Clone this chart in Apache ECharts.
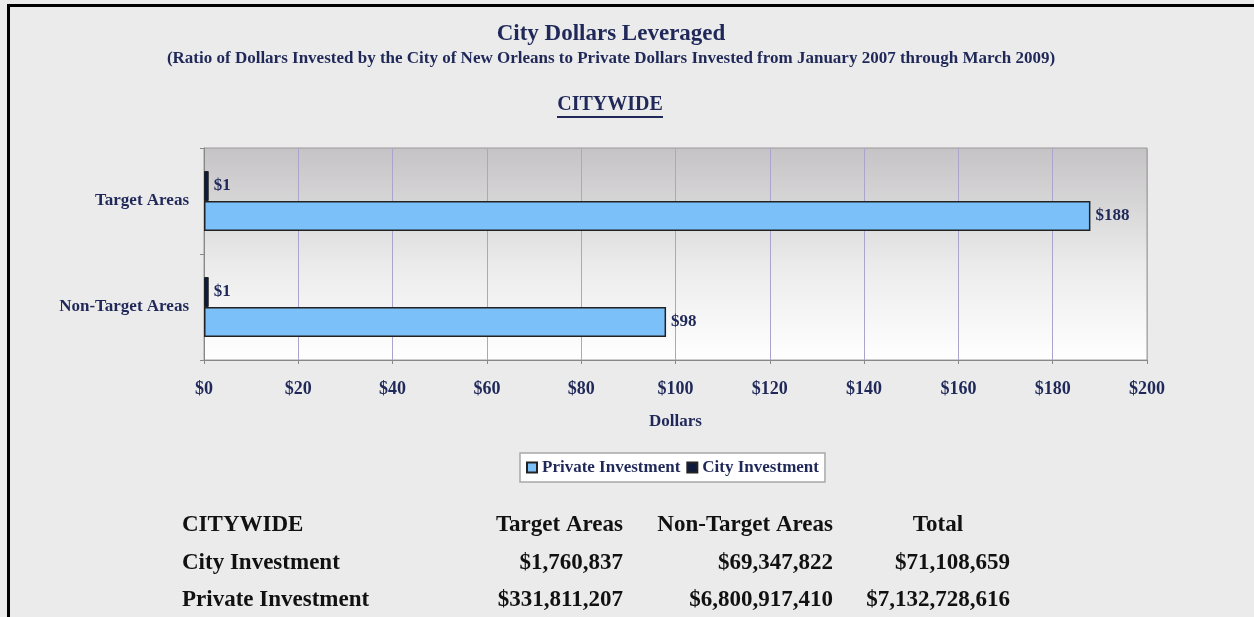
<!DOCTYPE html>
<html>
<head>
<meta charset="utf-8">
<script src="https://cdn.jsdelivr.net/npm/echarts@6/dist/echarts.min.js"></script>
<style>
  html, body { margin: 0; padding: 0; background: #ebebeb; }
  #main { width: 1254px; height: 617px; }
</style>
</head>
<body>
<div id="main"></div>
<script>
// chart data
var categories = ['Target Areas', 'Non-Target Areas'];
var privateRatio = [188, 98];
var cityRatio = [1, 1];

// table under the chart
var tableHeader = ['CITYWIDE', 'Target Areas', 'Non-Target Areas', 'Total'];
var cityInvestment = ['City Investment', '$1,760,837', '$69,347,822', '$71,108,659'];
var privateInvestment = ['Private Investment', '$331,811,207', '$6,800,917,410', '$7,132,728,616'];

var navy = '#1f2858';
var font = '"Liberation Serif", "Times New Roman", serif';

var chart = echarts.init(document.getElementById('main'));

function tableText(row, y, header) {
  var out = [];
  var xs = [182, 623, 833, 1010];
  for (var i = 0; i < row.length; i++) {
    var align = i == 0 ? 'left' : 'right';
    var x = xs[i];
    if (header && i == 3) { align = 'center'; x = 938; }
    out.push({
      type: 'text',
      x: x, y: y,
      style: {
        text: row[i], fill: '#111', font: 'bold 23px ' + font,
        textAlign: align, textVerticalAlign: 'middle'
      }
    });
  }
  return out;
}

var graphics = [
  { type: 'line', shape: { x1: 8.5, y1: 5, x2: 8.5, y2: 617 }, style: { stroke: '#000', lineWidth: 3 } },
  { type: 'line', shape: { x1: 7, y1: 5.5, x2: 1254, y2: 5.5 }, style: { stroke: '#000', lineWidth: 3 } },
  { type: 'text', x: 611, y: 34, style: { text: 'City Dollars Leveraged', fill: navy, font: 'bold 23px ' + font, textAlign: 'center', textVerticalAlign: 'middle' } },
  { type: 'text', x: 611, y: 59, style: { text: '(Ratio of Dollars Invested by the City of New Orleans to Private Dollars Invested from January 2007 through March 2009)', fill: navy, font: 'bold 17px ' + font, textAlign: 'center', textVerticalAlign: 'middle' } },
  { type: 'text', x: 610, y: 105, style: { text: 'CITYWIDE', fill: navy, font: 'bold 20px ' + font, textAlign: 'center', textVerticalAlign: 'middle' } },
  { type: 'line', shape: { x1: 557, y1: 117, x2: 663, y2: 117 }, style: { stroke: navy, lineWidth: 2 } }
];
graphics = graphics.concat(tableText(tableHeader, 525, true));
graphics = graphics.concat(tableText(cityInvestment, 563, false));
graphics = graphics.concat(tableText(privateInvestment, 600, false));

var labelStyle = {
  show: true,
  position: 'right',
  distance: 5,
  color: navy,
  fontFamily: font,
  fontWeight: 'bold',
  fontSize: 17,
  formatter: function (p) { return '$' + p.value; }
};

var option = {
  backgroundColor: '#ebebeb',
  animation: false,
  textStyle: { fontFamily: font },
  grid: {
    left: 204, right: 107, top: 148, bottom: 257,
    show: true,
    borderColor: '#9a9a9a',
    borderWidth: 1,
    backgroundColor: new echarts.graphic.LinearGradient(0, 0, 0, 1, [
      { offset: 0, color: '#c5c3c5' },
      { offset: 0.55, color: '#ebebeb' },
      { offset: 1, color: '#ffffff' }
    ])
  },
  legend: {
    top: 453,
    left: 520,
    backgroundColor: '#ffffff',
    borderColor: '#a8a8a8',
    borderWidth: 1.5,
    padding: [6, 6],
    itemGap: 6,
    itemWidth: 10,
    itemHeight: 10,
    icon: 'rect',
    textStyle: { color: navy, fontFamily: font, fontWeight: 'bold', fontSize: 17 },
    data: ['Private Investment', 'City Investment']
  },
  xAxis: {
    type: 'value',
    min: 0, max: 200, interval: 20,
    name: 'Dollars',
    nameLocation: 'middle',
    nameGap: 53,
    nameTextStyle: { color: navy, fontFamily: font, fontWeight: 'bold', fontSize: 17 },
    axisLine: { show: true, lineStyle: { color: '#888' } },
    axisTick: { show: true, length: 4, lineStyle: { color: '#888' } },
    axisLabel: {
      color: navy, fontFamily: font, fontWeight: 'bold', fontSize: 18, margin: 20,
      formatter: function (v) { return '$' + v; }
    },
    splitLine: { show: true, lineStyle: { color: '#aca4cc', width: 1 } }
  },
  yAxis: {
    type: 'category',
    inverse: true,
    data: categories,
    axisLine: { show: true, lineStyle: { color: '#888' } },
    axisTick: { show: true, length: 4, lineStyle: { color: '#888' } },
    axisLabel: { color: navy, fontFamily: font, fontWeight: 'bold', fontSize: 17, margin: 15, padding: [4, 0, 0, 0] },
    splitLine: { show: false }
  },
  series: [
    {
      name: 'City Investment',
      type: 'bar',
      data: cityRatio,
      barWidth: 30,
      barGap: '0%',
      itemStyle: { color: '#0c1a3d', borderColor: '#222', borderWidth: 1 },
      label: labelStyle
    },
    {
      name: 'Private Investment',
      type: 'bar',
      data: privateRatio,
      barWidth: 30,
      barGap: '0%',
      itemStyle: { color: '#7cc0fa', borderColor: '#222', borderWidth: 1.5 },
      label: labelStyle
    }
  ],
  graphic: graphics
};

chart.setOption(option);
</script>
</body>
</html>
